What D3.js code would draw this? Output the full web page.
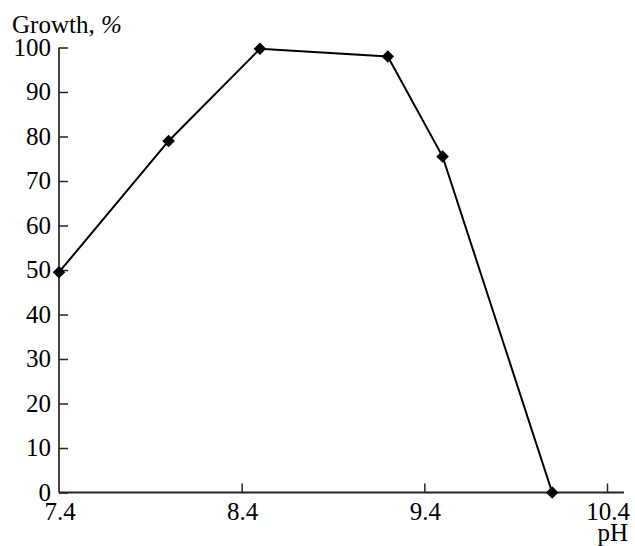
<!DOCTYPE html>
<html>
<head>
<meta charset="utf-8">
<script src="https://cdn.jsdelivr.net/npm/d3@7"></script>
<style>
  body { margin: 0; background: #fff; }
  svg { display: block; font-family: "Liberation Serif", "Times New Roman", serif; }
</style>
</head>
<body>
<svg id="chart" width="635" height="546"></svg>
<script>
// pH values and growth (%)
const phValues = [7.4, 8.0, 8.5, 9.2, 9.5, 10.1];
const growthValues = [49.5, 79, 99.7, 98, 75.5, 0];
const xTicks = [7.4, 8.4, 9.4, 10.4];
const yTicks = [0, 10, 20, 30, 40, 50, 60, 70, 80, 90, 100];

const svg = d3.select("#chart");
const fontSize = 25;

const x = d3.scaleLinear().domain([7.4, 10.4]).range([59, 607]);
const y = d3.scaleLinear().domain([0, 100]).range([492.5, 47.5]);

// y axis, ticks pointing inward
const yAxis = svg.append("g")
    .attr("transform", `translate(${x(7.4)},0)`)
    .call(d3.axisRight(y).tickValues(yTicks).tickSize(9).tickFormat(""));
yAxis.select(".domain").attr("d", `M0,${y(100)}V${y(0)}`).attr("stroke", "#444").attr("stroke-width", 2);
yAxis.selectAll(".tick line").attr("stroke", "#222").attr("stroke-width", 1.5);

svg.append("g").selectAll("text")
    .data(yTicks)
    .join("text")
    .attr("x", 51)
    .attr("y", d => y(d))
    .attr("dy", "0.33em")
    .attr("text-anchor", "end")
    .attr("font-size", fontSize)
    .text(d => d);

// x axis, ticks pointing up
const xAxis = svg.append("g")
    .attr("transform", `translate(0,${y(0)})`)
    .call(d3.axisTop(x).tickValues(xTicks).tickSize(9).tickFormat(""));
xAxis.select(".domain").attr("d", `M${x(7.4)},0H624`).attr("stroke", "#222").attr("stroke-width", 2);
xAxis.selectAll(".tick line").attr("stroke", "#222").attr("stroke-width", 1.5);
xAxis.selectAll(".tick").filter(d => d === 7.4).remove();

svg.append("g").selectAll("text")
    .data(xTicks)
    .join("text")
    .attr("x", d => x(d) + 1)
    .attr("y", 520)
    .attr("text-anchor", "middle")
    .attr("font-size", fontSize)
    .text(d => d.toFixed(1));

svg.append("text")
    .attr("x", 628)
    .attr("y", 541)
    .attr("text-anchor", "end")
    .attr("font-size", fontSize)
    .text("pH");

svg.append("text")
    .attr("x", 12)
    .attr("y", 33)
    .attr("font-size", fontSize)
    .text("Growth, ")
    .append("tspan")
    .attr("font-style", "italic")
    .text("%");

const points = phValues.map((p, i) => [p, growthValues[i]]);

svg.append("path")
    .datum(points)
    .attr("fill", "none")
    .attr("stroke", "#000")
    .attr("stroke-width", 2)
    .attr("d", d3.line().x(d => x(d[0])).y(d => y(d[1])));

svg.append("g").selectAll("path")
    .data(points)
    .join("path")
    .attr("transform", d => `translate(${x(d[0])},${y(d[1])})`)
    .attr("d", d3.symbol(d3.symbolDiamond2, 100))
    .attr("fill", "#000");
</script>
</body>
</html>
